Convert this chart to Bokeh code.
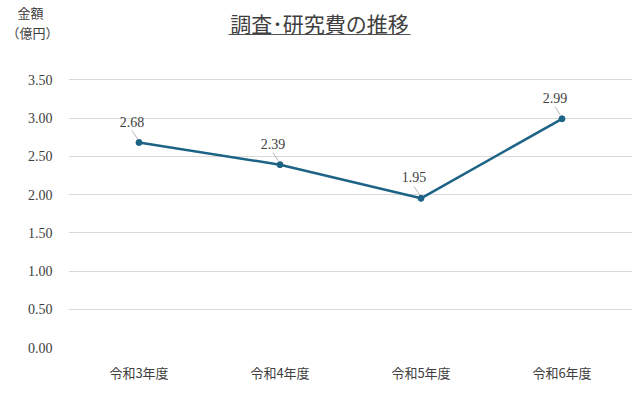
import numpy as np
from bokeh.plotting import figure
from bokeh.layouts import column
from bokeh.models import Range1d, FixedTicker, LabelSet, ColumnDataSource
from bokeh.core.properties import value
from bokeh.embed import file_html
from bokeh.resources import INLINE

# ---- data ----
categories = ["令和3年度", "令和4年度", "令和5年度", "令和6年度"]
values = [2.68, 2.39, 1.95, 2.99]
y_ticks = [0.0, 0.5, 1.0, 1.5, 2.0, 2.5, 3.0, 3.5]
y_tick_labels = ["0.00", "0.50", "1.00", "1.50", "2.00", "2.50", "3.00", "3.50"]
title_text = "調査･研究費の推移"
y_label_lines = ["金額", "（億円）"]

LINE_COLOR = "#1d6386"
TEXT_COLOR = "#404040"
CJK = "Noto Sans CJK JP"
NUM = "Liberation Serif"

W = 632
HEAD_H = 52

# ---------- header (title + unit label) ----------
head = figure(width=W, height=HEAD_H, output_backend="svg", toolbar_location=None,
              x_range=Range1d(0, W), y_range=Range1d(HEAD_H, 0),
              x_axis_type=None, y_axis_type=None, min_border=0)
head.frame_align = False
head.outline_line_color = None
head.grid.visible = False
head.text(x=[319], y=[22], text=[title_text], text_align="center", text_baseline="middle",
          text_font=value(CJK), text_font_size="21px", text_color="#404040")
head.segment(x0=[228], y0=[34], x1=[410], y1=[34], line_color="#505050", line_width=1.2)
head.text(x=[30, 32], y=[12, 32], text=y_label_lines, text_align="center",
          text_baseline="middle", text_font=value(CJK), text_font_size="13px",
          text_color=TEXT_COLOR)

# ---------- main chart ----------
xs = list(range(len(categories)))
p = figure(width=W, height=392 - HEAD_H, output_backend="svg", toolbar_location=None,
           x_range=Range1d(-0.5, 3.5), y_range=Range1d(0, 3.752),
           min_border_left=68, min_border_right=0, min_border_top=8, min_border_bottom=45)
p.frame_align = False
p.outline_line_color = None

p.xaxis.ticker = FixedTicker(ticks=xs)
p.xaxis.major_label_overrides = {i: c for i, c in enumerate(categories)}
p.xaxis.major_label_text_font = CJK
p.xaxis.major_label_text_font_size = "13px"
p.xaxis.major_label_text_color = TEXT_COLOR
p.xaxis.major_label_standoff = 9
p.xaxis.axis_line_color = None
p.xaxis.major_tick_line_color = None
p.xaxis.minor_tick_line_color = None

p.yaxis.ticker = FixedTicker(ticks=y_ticks)
p.yaxis.major_label_overrides = {t: l for t, l in zip(y_ticks, y_tick_labels)}
p.yaxis.major_label_text_font = NUM
p.yaxis.major_label_text_font_size = "14px"
p.yaxis.major_label_text_color = TEXT_COLOR
p.yaxis.major_label_standoff = 10
p.yaxis.axis_line_color = None
p.yaxis.major_tick_line_color = None
p.yaxis.minor_tick_line_color = None

p.xgrid.grid_line_color = None
p.ygrid.grid_line_color = "#d9d9d9"
p.ygrid.grid_line_width = 1

src = ColumnDataSource(dict(x=xs, y=values, lab=[f"{v:.2f}" for v in values]))
p.line("x", "y", source=src, line_color=LINE_COLOR, line_width=2.5)
p.scatter("x", "y", source=src, size=6, fill_color=LINE_COLOR, line_color=LINE_COLOR)

# leader lines: pixel offsets converted to data units
xpx = (632 - 68) / 4.0
ypx = 287 / 3.752
xa = np.array(xs, dtype=float)
ya = np.array(values)
p.segment(x0=xa - 7 / xpx, y0=ya + 12 / ypx, x1=xa - 1.5 / xpx, y1=ya + 3.5 / ypx,
          line_color="#a6a6a6", line_width=0.8)

p.add_layout(LabelSet(x="x", y="y", text="lab", source=src, x_offset=-7, y_offset=21,
                      text_align="center", text_baseline="middle",
                      text_font=NUM, text_font_size="14px", text_color=TEXT_COLOR))

layout = column(head, p, spacing=0)
open("out.html", "w").write(file_html(layout, INLINE))
